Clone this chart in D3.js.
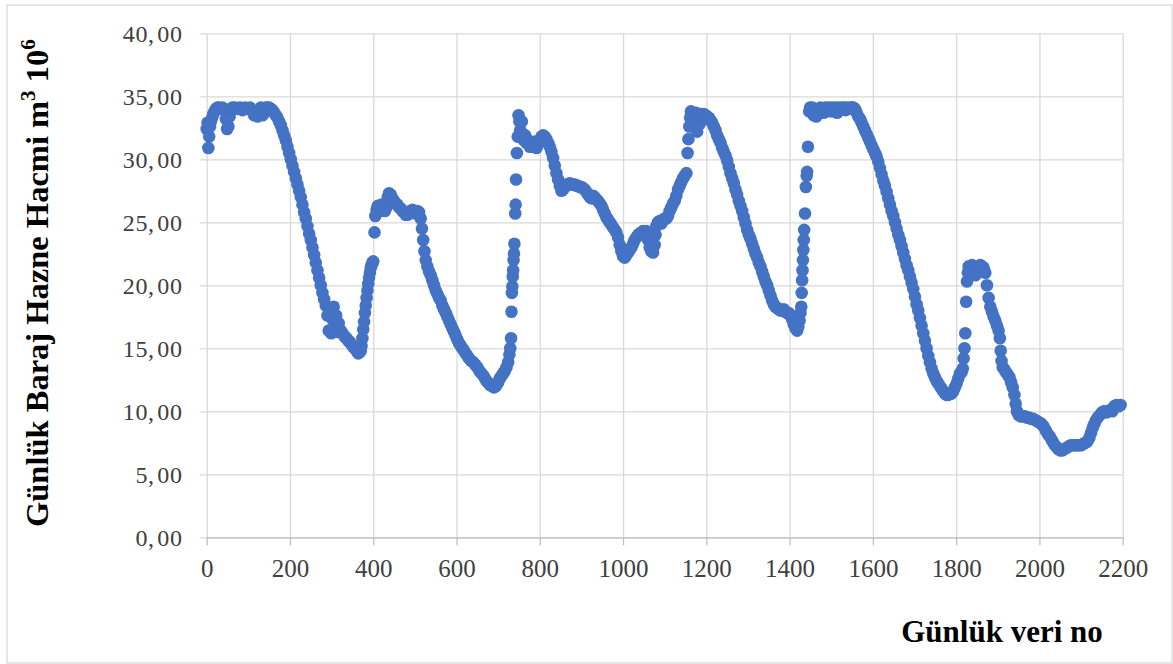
<!DOCTYPE html>
<html>
<head>
<meta charset="utf-8">
<script src="https://cdn.jsdelivr.net/npm/d3@7/dist/d3.min.js"></script>
<style>
  body { margin: 0; background: #ffffff; }
  svg { display: block; }
</style>
</head>
<body>
<svg id="chart" width="1173" height="664"></svg>
<script>
// Daily reservoir volume (million m3) by day number, one array per filling/draw-down cycle.
const donem1 = [
  [0,32.4],[2,32.9],[4,30.9],[6,31.8],[8,32.6],[10,33.0],[13,33.3],[16,33.6],[19,33.8],[22,34.0],
  [26,34.1],[30,34.1],[34,34.0],[38,34.1],[42,33.9],[46,33.2],[49,32.4],[52,32.6],[55,33.4],[58,34.0],
  [62,34.1],[68,34.1],[74,34.0],[80,34.1],[86,33.9],[92,34.1],[98,34.0],[104,34.1],[110,33.8],[114,33.5],
  [118,33.6],[122,33.4],[126,33.6],[130,34.1],[134,33.5],[138,33.7],[142,34.1],[146,34.1],[150,34.1],
  [154,34.0],[158,33.9],[162,33.7],[166,33.5],[170,33.3],[174,33.0],[178,32.7],[182,32.3],[186,31.9],
  [190,31.5],[194,31.0],[198,30.5],[202,30.0],[206,29.5],[210,29.0],[214,28.5],[218,28.0],[222,27.5],
  [226,27.0],[230,26.4],[234,25.8],[238,25.3],[242,24.7],[246,24.1],[250,23.6],[254,23.0],[258,22.4],
  [262,21.8],[266,21.2],[270,20.6],[274,20.0],[278,19.4],[282,18.9],[286,18.4],[290,17.6],[293,16.4],
  [296,17.9],[299,16.2],[302,17.3],[305,18.3],[308,16.6],[311,17.6],[314,16.3],[317,17.0],[320,16.5],
  [324,16.3],[328,16.1],[332,15.9],[336,15.8],[340,15.6],[344,15.5],[348,15.3],[352,15.1],[356,15.0],
  [360,14.8],[364,14.6],[368,14.7]
];
const donem2 = [
  [370,14.8],[372,15.2],[374,15.8],[376,16.5],[378,17.1],[380,17.8],[382,18.4],[384,19.0],[386,19.6],
  [388,20.1],[390,20.6],[392,21.0],[394,21.4],[396,21.6],[398,21.8],[400,21.9],[403,24.2],[405,25.5],
  [408,26.0],[411,26.3],[414,25.9],[417,26.2],[420,26.4],[424,26.3],[428,25.9],[432,26.2],[435,27.0],
  [438,27.3],[442,27.2],[446,26.9],[450,26.7],[454,26.5],[458,26.4],[462,26.2],[466,26.1],[470,25.9],
  [474,25.8],[478,25.6],[482,25.6],[486,25.7],[490,25.9],[494,26.0],[498,25.9],[502,25.7],[506,25.9],
  [510,25.8],[514,25.3],[517,24.5],[520,23.6],[523,22.7],[526,22.0],[530,21.5],[534,21.1],[538,20.8],
  [542,20.4],[546,20.0],[550,19.6],[554,19.3],[558,19.0],[562,18.8],[566,18.4],[570,18.1],[574,17.8],
  [578,17.5],[582,17.2],[586,16.9],[590,16.6],[594,16.3],[598,16.0],[602,15.7],[606,15.4],[610,15.2],
  [614,15.0],[618,14.8],[622,14.6],[626,14.4],[630,14.2],[635,14.0],[640,13.9],[645,13.7],[650,13.5],
  [655,13.2],[660,13.0],[665,12.8],[670,12.5],[675,12.3],[680,12.1],[685,12.0],[690,11.9],[695,12.0],
  [700,12.3],[704,12.6],[708,12.8],[712,13.0],[716,13.2],[720,13.5],[724,13.9],[727,14.5],[729,15.0],
  [731,15.8],[732,17.9],[733,19.4],[734,19.9],[735,20.7],[736,21.2],[737,22.0],[738,22.5],[739,23.3],
  [741,25.7],[742,26.4],[743,28.4],[745,30.5],[747,31.8],[749,33.5]
];
const donem3 = [
  [751,33.0],[753,32.3],[755,31.8],[757,33.0],[759,32.0],[762,31.5],[765,31.9],[768,31.3],[772,31.5],
  [776,31.0],[780,31.3],[784,31.0],[788,31.4],[792,30.9],[796,31.2],[800,31.5],[804,31.8],[808,31.9],
  [812,31.8],[816,31.6],[820,31.3],[824,31.0],[828,30.6],[832,30.1],[836,29.5],[840,28.9],[844,28.4],
  [848,27.9],[852,27.5],[856,27.6],[860,27.8],[864,28.0],[868,28.0],[872,28.1],[876,28.0],[880,28.0],
  [884,28.0],[888,27.9],[892,27.9],[896,27.8],[900,27.8],[904,27.7],[908,27.6],[912,27.4],[916,27.2],
  [920,27.0],[924,26.9],[928,27.1],[932,27.0],[936,26.8],[940,26.7],[944,26.5],[948,26.3],[952,26.0],
  [956,25.7],[960,25.4],[964,25.2],[968,25.0],[972,24.8],[976,24.6],[980,24.4],[984,24.2],[988,23.8],
  [992,23.2],[996,22.7],[1000,22.3],[1004,22.2],[1008,22.4],[1012,22.6],[1016,22.8],[1020,23.0],
  [1024,23.3],[1028,23.6],[1032,23.8],[1036,24.0],[1040,24.1],[1044,24.2],[1048,24.3],[1052,24.0],
  [1056,24.3],[1060,23.6],[1064,23.0],[1068,22.7],[1072,22.6],[1076,23.2],[1078,24.0],[1080,24.7],
  [1084,25.0],[1088,25.1],[1092,24.9],[1096,25.2],[1100,25.3],[1104,25.3],[1108,25.5],[1112,25.9],
  [1116,26.2],[1120,26.5],[1124,26.7],[1128,27.1],[1132,27.6],[1136,27.9],[1140,28.2],[1144,28.5],
  [1148,28.7],[1152,28.9],[1155,30.5],[1157,31.6],[1159,32.6],[1161,33.3],[1163,33.8],[1166,33.5],
  [1169,32.6],[1172,33.2],[1175,33.7],[1178,32.2],[1181,33.4],[1184,32.8],[1187,33.6],[1190,33.4],
  [1194,33.6],[1198,33.5],[1202,33.4],[1206,33.3],[1210,33.1],[1214,32.9],[1218,32.6],[1222,32.3],
  [1226,31.9],[1230,31.6],[1234,31.3],[1238,30.9],[1242,30.6],[1246,30.3],[1250,29.9],[1254,29.4],
  [1258,28.9],[1262,28.5],[1266,28.1],[1270,27.6],[1274,27.2],[1278,26.7],[1282,26.3],[1286,25.9],
  [1290,25.4],[1294,24.9],[1298,24.4],[1302,24.0],[1306,23.7],[1310,23.3],[1314,22.9],[1318,22.5],
  [1322,22.2],[1326,21.8],[1330,21.5],[1334,21.1],[1338,20.7],[1342,20.3],[1346,20.0],[1350,19.6],
  [1354,19.2],[1358,18.8],[1362,18.5],[1366,18.3],[1370,18.2],[1374,18.1],[1378,18.0],[1382,18.0],
  [1386,18.1],[1390,17.9],[1394,17.8],[1398,17.8],[1402,17.6],[1406,17.3],[1410,16.9],[1414,16.6],
  [1418,16.4],[1421,16.7],[1424,17.2],[1426,17.8],[1428,18.3],[1429,19.4],[1430,20.4],[1431,21.2],
  [1432,22.0],[1433,22.8],[1434,23.6],[1435,24.4],[1437,25.7],[1439,27.8],[1441,28.7],[1442,29.0],
  [1444,31.0],[1447,33.8]
];
const donem4 = [
  [1449,34.1],[1452,33.8],[1455,34.1],[1458,33.5],[1461,33.8],[1464,33.4],[1467,33.6],[1470,33.9],
  [1474,34.1],[1478,34.0],[1482,33.7],[1486,34.1],[1490,34.0],[1494,34.1],[1498,33.8],[1502,34.1],
  [1506,33.9],[1510,34.1],[1514,33.7],[1518,34.1],[1522,34.0],[1526,34.1],[1530,34.1],[1534,33.9],
  [1538,34.1],[1542,34.0],[1546,34.1],[1550,34.1],[1553,34.1],[1557,34.0],[1561,33.7],[1565,33.4],
  [1569,33.2],[1573,32.9],[1577,32.6],[1581,32.3],[1585,32.0],[1589,31.7],[1593,31.4],[1597,31.1],
  [1601,30.8],[1605,30.5],[1609,30.2],[1613,29.8],[1617,29.3],[1621,28.8],[1625,28.3],[1629,27.9],
  [1633,27.4],[1637,26.9],[1641,26.4],[1645,25.9],[1649,25.5],[1653,25.0],[1657,24.5],[1661,24.0],
  [1665,23.6],[1669,23.1],[1673,22.6],[1677,22.1],[1681,21.6],[1685,21.2],[1689,20.7],[1693,20.2],
  [1697,19.7],[1701,19.1],[1705,18.5],[1709,18.0],[1713,17.4],[1717,16.8],[1721,16.2],[1725,15.6],
  [1729,15.0],[1733,14.4],[1737,13.9],[1741,13.4],[1745,13.0],[1749,12.7],[1753,12.4],[1757,12.2],
  [1761,12.0],[1765,11.8],[1769,11.6],[1773,11.4],[1777,11.3],[1781,11.3],[1785,11.4],[1789,11.4],
  [1793,11.6],[1797,11.9],[1801,12.2],[1805,12.6],[1809,13.0],[1813,13.1],[1816,13.4],[1818,14.2],
  [1820,15.0],[1822,16.2],[1824,18.7],[1826,20.3],[1828,21.0],[1830,21.5],[1834,21.3],[1838,21.6],
  [1842,21.4],[1846,20.8],[1850,21.3],[1854,21.5],[1858,21.6],[1862,21.5],[1866,21.4],[1870,21.0],
  [1874,20.0],[1878,19.0],[1882,18.3],[1886,17.9],[1890,17.5],[1894,17.2],[1898,16.8],[1902,16.4],
  [1905,15.8],[1907,14.8],[1909,14.0],[1912,13.5],[1916,13.3],[1920,13.1],[1924,12.9],[1928,12.7],
  [1932,12.3],[1936,11.9],[1940,11.3],[1943,10.6],[1946,10.0],[1950,9.7],[1955,9.6],[1960,9.6],
  [1965,9.6],[1970,9.5],[1975,9.5],[1980,9.4],[1985,9.4],[1990,9.3],[1995,9.2],[2000,9.1],
  [2005,9.0],[2010,8.8],[2015,8.5],[2020,8.2],[2025,8.0],[2030,7.7],[2035,7.4],[2040,7.2],
  [2045,7.0],[2050,6.9],[2055,6.9],[2060,7.0],[2065,7.1],[2070,7.2],[2075,7.3],[2080,7.3],
  [2085,7.3],[2090,7.3],[2095,7.3],[2100,7.3],[2105,7.4],[2110,7.5],[2115,7.6],[2120,7.9],
  [2124,8.3],[2128,8.7],[2132,9.0],[2136,9.3],[2140,9.5],[2145,9.7],[2150,9.9],[2155,10.0],
  [2160,9.9],[2165,10.0],[2170,10.1],[2175,10.0],[2180,10.4],[2185,10.5],[2190,10.4],[2195,10.5]
];

const xTicks = [0, 200, 400, 600, 800, 1000, 1200, 1400, 1600, 1800, 2000, 2200];
const yTicks = [0, 5, 10, 15, 20, 25, 30, 35, 40];
const xTitle = "Günlük veri no";
const yTitleParts = ["Günlük Baraj Hazne Hacmi m", "3", " 10", "6"];

const svg = d3.select("#chart");
const W = 1173, H = 664;
const plot = { left: 206.7, right: 1122.7, top: 33.3, bottom: 537.3 };

const x = d3.scaleLinear().domain([0, 2200]).range([plot.left, plot.right]);
const y = d3.scaleLinear().domain([0, 40]).range([plot.bottom, plot.top]);

const serif = "'Liberation Serif', 'Times New Roman', serif";
const gridColor = "#d9d9d9";

// chart area frame
svg.append("rect")
  .attr("x", 7).attr("y", 5).attr("width", W - 8).attr("height", H - 6)
  .attr("fill", "#fff").attr("stroke", gridColor).attr("stroke-width", 1.3);

// horizontal gridlines with short outward ticks
const yGrid = svg.append("g")
  .attr("transform", `translate(${plot.left - 7},0)`)
  .call(d3.axisLeft(y).tickValues(yTicks).tickSize(-(plot.right - plot.left + 7)).tickFormat(""));
yGrid.select(".domain").remove();
yGrid.selectAll(".tick line").attr("stroke", gridColor).attr("stroke-width", 1.3);

// vertical gridlines
const xGrid = svg.append("g")
  .attr("transform", `translate(0,${plot.bottom})`)
  .call(d3.axisBottom(x).tickValues(xTicks).tickSize(-(plot.bottom - plot.top)).tickFormat(""));
xGrid.select(".domain").remove();
xGrid.selectAll(".tick line").attr("stroke", gridColor).attr("stroke-width", 1.3);

// x axis with outward ticks and labels
const xAxis = svg.append("g")
  .attr("transform", `translate(0,${plot.bottom})`)
  .call(d3.axisBottom(x).tickValues(xTicks).tickSize(8).tickSizeOuter(0).tickPadding(14).tickFormat(d3.format("d")));
xAxis.select(".domain").attr("stroke", "#bfbfbf").attr("stroke-width", 1.3);
xAxis.selectAll(".tick line").attr("stroke", "#bfbfbf").attr("stroke-width", 1.3);
xAxis.selectAll(".tick text")
  .attr("font-family", serif).attr("font-size", 25).attr("fill", "#404040");

// y axis labels (decimal comma)
const yAxis = svg.append("g")
  .attr("transform", `translate(${plot.left - 7},0)`)
  .call(d3.axisLeft(y).tickValues(yTicks).tickSize(0).tickPadding(17));
yAxis.select(".domain").remove();
yAxis.selectAll(".tick text")
  .attr("font-family", serif).attr("font-size", 24).attr("fill", "#404040")
  .attr("letter-spacing", 0.7)
  .attr("dy", "0.36em")
  .each(function (d) {
    const t = d3.select(this).text("");
    const parts = d3.format(".2f")(d).split(".");
    t.append("tspan").text(parts[0] + ",");
    t.append("tspan").attr("dx", 2.5).text(parts[1]);
  });

// observations
const olcumler = donem1.concat(donem2, donem3, donem4);
svg.append("g")
  .selectAll("circle")
  .data(olcumler)
  .join("circle")
  .attr("cx", d => x(d[0]))
  .attr("cy", d => y(d[1]))
  .attr("r", 6.3)
  .attr("fill", "#4472C4");

// axis titles
svg.append("text")
  .attr("x", 1002).attr("y", 642)
  .attr("text-anchor", "middle")
  .attr("font-family", serif).attr("font-weight", "bold").attr("font-size", 31)
  .attr("fill", "#000")
  .text(xTitle);

const yTitle = svg.append("text")
  .attr("transform", "translate(48,527) rotate(-90)")
  .attr("text-anchor", "start")
  .attr("font-family", serif).attr("font-weight", "bold").attr("font-size", 32.5)
  .attr("fill", "#000");
yTitle.append("tspan").text(yTitleParts[0]);
yTitle.append("tspan").attr("font-size", 21).attr("dy", -13).text(yTitleParts[1]);
yTitle.append("tspan").attr("dy", 13).text(yTitleParts[2]);
yTitle.append("tspan").attr("font-size", 21).attr("dy", -13).text(yTitleParts[3]);
</script>
</body>
</html>
